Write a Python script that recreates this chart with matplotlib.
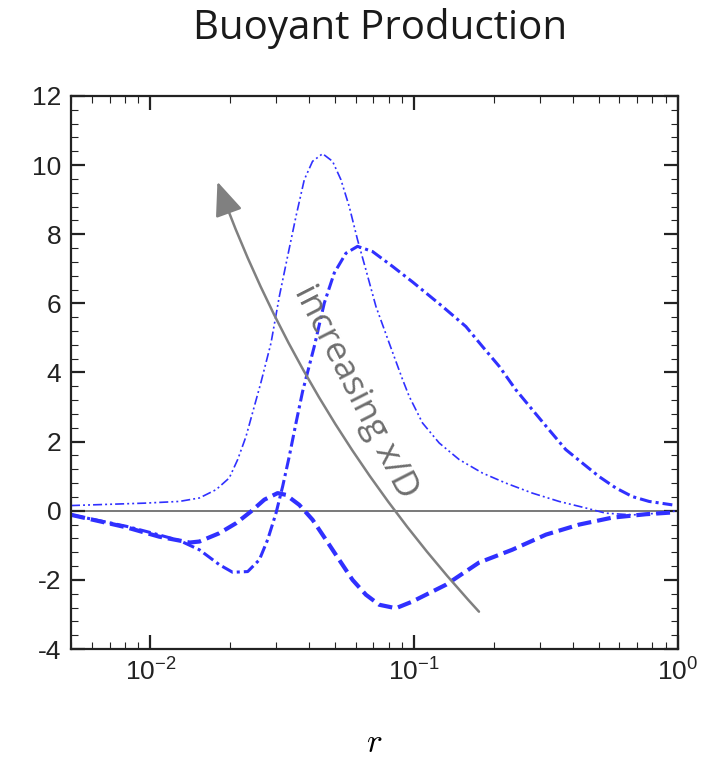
import numpy as np
import matplotlib
matplotlib.use("Agg")
import matplotlib.pyplot as plt
from matplotlib.ticker import MultipleLocator

plt.rcParams['font.family'] = ['Liberation Sans', 'DejaVu Sans']
plt.rcParams['mathtext.fontset'] = 'custom'
plt.rcParams['mathtext.rm'] = 'Liberation Sans'
plt.rcParams['mathtext.it'] = 'Liberation Sans:italic'
plt.rcParams['axes.unicode_minus'] = False
plt.rcParams['lines.scale_dashes'] = False

# curve with the tall narrow peak (thin dash-dot-dot)
r_a = [0.005, 0.006, 0.0095, 0.01288, 0.01534, 0.01774, 0.01991, 0.02142,
       0.02304, 0.02477, 0.02626, 0.02865, 0.03081, 0.03312, 0.03564,
       0.03832, 0.04118, 0.04495, 0.04903, 0.05274, 0.05672, 0.06098,
       0.06561, 0.07161, 0.0804, 0.09031, 0.0957, 0.1075, 0.1244, 0.1481,
       0.1815, 0.2225, 0.2806, 0.354, 0.447, 0.5322, 0.6713, 0.8472,
       0.9515, 1.0]
p_a = [0.15, 0.17, 0.22, 0.27, 0.37, 0.61, 0.95, 1.48,
       2.15, 3.02, 3.72, 4.85, 6.2, 7.36, 8.52,
       9.58, 10.11, 10.33, 10.11, 9.58, 8.8, 7.84,
       6.97, 5.91, 4.85, 3.8, 3.31, 2.54, 1.96, 1.48,
       1.09, 0.8, 0.51, 0.27, 0.08, -0.07, -0.12, -0.07,
       -0.02, 0.0]

# curve with the broad peak (thick dash-dot)
r_b = [0.00502, 0.00811, 0.01, 0.01288, 0.01534, 0.01825, 0.0205, 0.02338,
       0.02588, 0.02782, 0.02993, 0.03171, 0.0336, 0.03564, 0.03775,
       0.04179, 0.04562, 0.04977, 0.0551, 0.06098, 0.0695, 0.08275,
       0.09854, 0.128, 0.157, 0.1815, 0.2099, 0.2428, 0.2806, 0.3246,
       0.3754, 0.4339, 0.5019, 0.5807, 0.6713, 0.7765, 0.9515]
p_b = [-0.12, -0.45, -0.63, -0.86, -1.13, -1.56, -1.78, -1.76,
       -1.42, -0.84, -0.07, 0.7, 1.57, 2.54, 3.45,
       4.75, 6.01, 6.88, 7.45, 7.65, 7.5, 7.07,
       6.62, 5.91, 5.33, 4.75, 4.18, 3.5, 2.92, 2.34,
       1.77, 1.38, 0.99, 0.66, 0.41, 0.27, 0.17]

# curve going negative (thick dashed)
r_c = [0.00502, 0.00811, 0.0108, 0.0141, 0.01534, 0.01825, 0.02113, 0.02406,
       0.02703, 0.03035, 0.03266, 0.03667, 0.04118, 0.04629, 0.05197,
       0.05838, 0.06561, 0.0737, 0.08522, 0.0982, 0.132, 0.176, 0.235,
       0.316, 0.422, 0.562, 0.757, 0.948]
p_c = [-0.12, -0.48, -0.75, -0.92, -0.89, -0.65, -0.36, -0.02,
       0.32, 0.51, 0.46, 0.17, -0.26, -0.84, -1.42,
       -2.0, -2.43, -2.72, -2.82, -2.63, -2.14, -1.5, -1.13,
       -0.69, -0.4, -0.2, -0.1, -0.05]

blue = '#3030ff'

fig = plt.figure(figsize=(7.25, 7.63), dpi=100)
ax = fig.add_axes([0.0979, 0.1494, 0.8373, 0.7248])

ax.axhline(0, color='#555555', lw=1.1, zorder=1)
ax.plot(r_a, p_a, color=blue, lw=1.2, dashes=(6.5, 2.2, 1.4, 2.2, 1.4, 2.2))
ax.plot(r_b, p_b, color=blue, lw=2.2, dashes=(8.6, 2.9, 2.2, 2.9))
ax.plot(r_c, p_c, color=blue, lw=3.0, dashes=(10, 4.3))

ax.set_xscale('log')
ax.set_xlim(0.005, 1)
ax.set_ylim(-4, 12)
ax.yaxis.set_major_locator(MultipleLocator(2))
ax.yaxis.set_minor_locator(MultipleLocator(0.4))
ax.tick_params(which='both', direction='in', top=True, right=True,
               color='#222222', labelcolor='#222222')
ax.tick_params(which='major', length=10, width=1.6, labelsize=19, pad=7)
ax.tick_params(which='minor', length=5, width=0.8)
for s in ax.spines.values():
    s.set_linewidth(1.6)
    s.set_color('#222222')

ax.set_xlabel(r'$r$', fontsize=24, math_fontfamily='cm', labelpad=30)

# arrow and its label
ax.annotate('', xy=(0.01795, 9.52), xytext=(0.176, -2.92),
            arrowprops=dict(arrowstyle='-|>,head_length=1.05,head_width=0.43',
                            mutation_scale=20, color='#808080', lw=1.8,
                            shrinkA=0, shrinkB=0,
                            connectionstyle='arc3,rad=-0.1'))
ax.text(0.0598, 3.44, 'increasing x/D', rotation=-63, rotation_mode='anchor',
        ha='center', va='center', color='#6e6e6e', fontsize=25.5,
        family=['Open Sans', 'DejaVu Sans'])

fig.text(0.524, 0.963, 'Buoyant Production', ha='center', va='center',
         fontsize=29, color='#1a1a1a', family=['Open Sans', 'DejaVu Sans'])

fig.savefig('out.png', dpi=100)
